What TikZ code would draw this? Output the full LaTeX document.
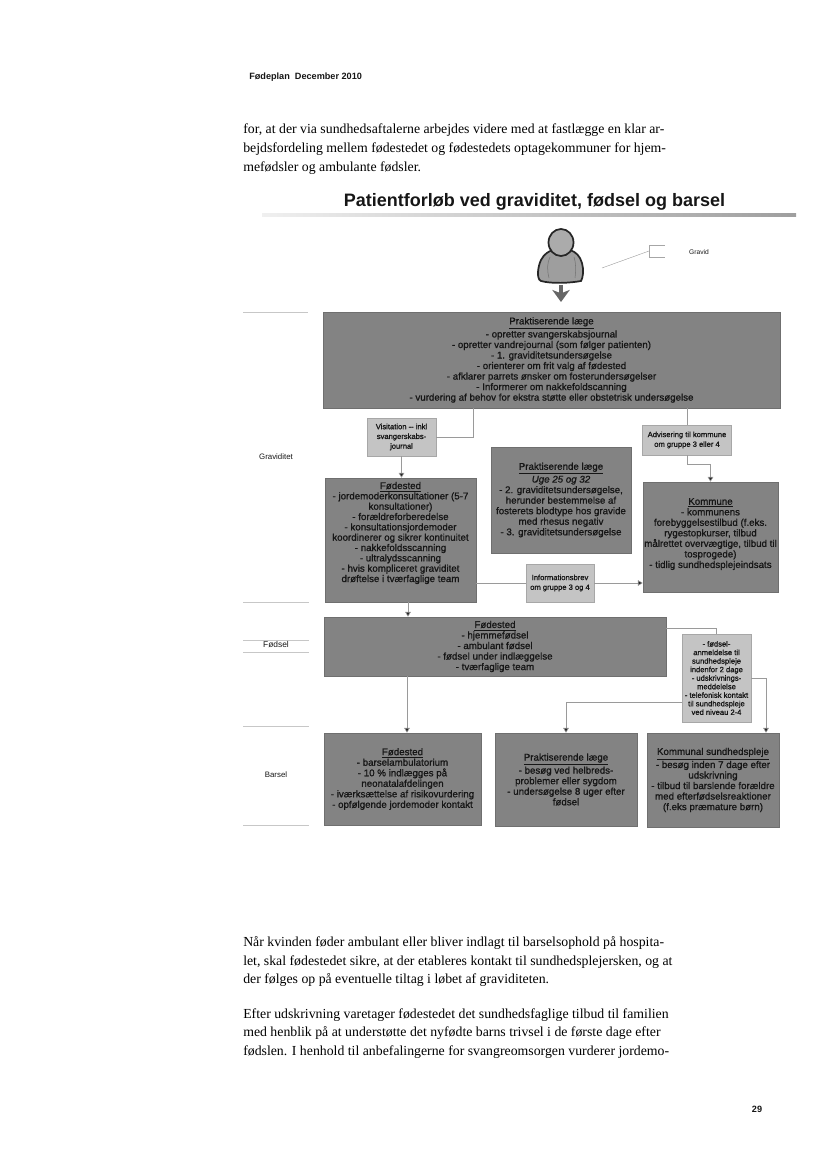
\documentclass[tikz,border=0pt]{standalone}
\usepackage{fontspec}
\setmainfont{Liberation Sans}
\newfontfamily\serifbody{Liberation Serif}
\newfontfamily\boxfont[FakeBold=1.1]{Liberation Sans}
\usetikzlibrary{arrows.meta}
\definecolor{boxgray}{HTML}{838383}
\definecolor{notegray}{HTML}{C4C4C4}
\definecolor{linegray}{HTML}{9A9A9A}
\definecolor{inkdark}{HTML}{161616}
\newcommand{\boxlift}[1]{\rule[-#1]{0pt}{0pt}}
\tikzset{
  bs/.style 2 args={minimum width=#1*.75pt,minimum height=#2*.75pt},
  darkbox/.style={fill=boxgray,draw=boxgray!85!black,line width=.4pt,inner sep=0pt,align=center,text=inkdark,font=\boxfont\fontsize{7.3}{7.9}\selectfont},
  notebox/.style={fill=notegray,draw=notegray!85!black,line width=.3pt,inner sep=0pt,align=center,text=inkdark,font=\boxfont\fontsize{5.7}{7.3}\selectfont},
  bodyline/.style={anchor=base west,inner sep=0pt,text=black,font=\serifbody\fontsize{10.35}{12}\selectfont},
  sidelabel/.style={inner sep=0pt,text=inkdark,font=\fontsize{5.9}{7}\selectfont},
  conn/.style={draw=linegray,line width=.45pt},
  connarrow/.style={conn,-{Triangle[length=3.6pt,width=4.2pt,fill=black!85]}},
  siderule/.style={draw=black!22,line width=.5pt},
}
\begin{document}
\begin{tikzpicture}[x=.75pt,y=-.75pt]
\useasboundingbox (0,0) rectangle (826,1169);
% header and running text
\node[anchor=base west,inner sep=0pt,font=\bfseries\fontsize{6.85}{8}\selectfont,text=inkdark] (hdr) at (249,80) {Fødeplan\ \ December 2010};
\node[bodyline] (p1) at (243,134) {for, at der via sundhedsaftalerne arbejdes videre med at fastlægge en klar ar-};
\node[bodyline] (p2) at (243,153) {bejdsfordeling mellem fødestedet og fødestedets optagekommuner for hjem-};
\node[bodyline] (p3) at (243,172) {mefødsler og ambulante fødsler.};
% title
\node[anchor=base,inner sep=0pt,font=\bfseries\fontsize{13.5}{15}\selectfont,text=inkdark] (title) at (534.5,207) {Patientforløb ved graviditet, fødsel og barsel};
\shade[left color=black!6,right color=black!38] (262,214) rectangle (796,217);
% person
\draw[line width=1.3pt,draw=black!85,fill=black!38]
  (541,281) .. controls (536,279) and (538,266) .. (541,260)
  .. controls (544,254) and (549,251) .. (553,250)
  -- (570,250) .. controls (576,252) and (580,256) .. (582,263)
  .. controls (584,270) and (583,278) .. (581,281)
  .. controls (570,283) and (552,284) .. (541,281) -- cycle;
\draw[line width=1.3pt,draw=black!85,fill=black!33] (561,242.5) ellipse (12.5 and 13.5);
\draw[line width=.4pt,draw=black!55] (550,257) .. controls (547,263) and (547,270) .. (549,278);
\draw[line width=.4pt,draw=black!55] (574,257) .. controls (576,263) and (576,270) .. (575,278);
\coordinate (pA) at (561,285);
\coordinate (pB) at (561,302);
\draw[line width=3.4pt,draw=black!60,-{Stealth[length=9pt,width=13pt,inset=2.5pt]}] (pA) -- (pB);
% legend
\coordinate (gA) at (602,268);
\coordinate (gB) at (649,251);
\draw[draw=black!40,line width=.3pt] (gA) -- (gB);
\draw[draw=black!35,line width=.4pt] (665,245) -- (649,245) -- (649,257) -- (665,257);
\node[sidelabel,font=\fontsize{5}{6}\selectfont] (gravid) at (699,252) {Gravid};
% side labels and rules
\draw[siderule] (243,312) -- (308,312);
\draw[siderule] (243,602) -- (309,602);
\draw[siderule] (243,640) -- (309,640);
\draw[siderule] (243,652) -- (309,652);
\draw[siderule] (243,726) -- (309,726);
\draw[siderule] (243,825) -- (309,825);
\node[sidelabel] (lg) at (276,457) {Graviditet};
\node[sidelabel,font=\fontsize{6.3}{7}\selectfont] (lf) at (276,645) {Fødsel};
\node[sidelabel] (lb) at (276,775) {Barsel};
% dark boxes
\node[darkbox,bs={457}{96}] (top) at (551.5,360) {\underline{Praktiserende læge}\\- opretter svangerskabsjournal\\- opretter vandrejournal (som følger patienten)\\- 1. graviditetsundersøgelse\\- orienterer om frit valg af fødested\\- afklarer parrets ønsker om fosterundersøgelser\\- Informerer om nakkefoldscanning\\- vurdering af behov for ekstra støtte eller obstetrisk undersøgelse};
\node[darkbox,bs={151}{124},font=\boxfont\fontsize{7.3}{7.75}\selectfont] (fod1) at (400.5,540) {\underline{Fødested}\\- jordemoderkonsultationer (5-7\\konsultationer)\\- forældreforberedelse\\- konsultationsjordemoder\\koordinerer og sikrer kontinuitet\\- nakkefoldsscanning\\- ultralydsscanning\\- hvis kompliceret graviditet\\drøftelse i tværfaglige team\boxlift{12pt}};
\node[darkbox,bs={140}{106}] (pl2) at (561,500) {\underline{Praktiserende læge}\\\textit{Uge 25 og 32}\\- 2. graviditetsundersøgelse,\\herunder bestemmelse af\\fosterets blodtype hos gravide\\med rhesus negativ\\- 3. graviditetsundersøgelse};
\node[darkbox,bs={135}{110}] (kom) at (710.5,537) {\underline{Kommune}\\- kommunens\\forebyggelsestilbud (f.eks.\\rygestopkurser, tilbud\\målrettet overvægtige, tilbud til\\tosprogede)\\- tidlig sundhedsplejeindsats\boxlift{6pt}};
\node[darkbox,bs={342}{59}] (fod2) at (495,646.5) {\underline{Fødested}\\- hjemmefødsel\\- ambulant fødsel\\- fødsel under indlæggelse\\- tværfaglige team};
\node[darkbox,bs={157}{92}] (fod3) at (402.5,779) {\underline{Fødested}\\- barselambulatorium\\- 10 \% indlægges på\\neonatalafdelingen\\- iværksættelse af risikovurdering\\- opfølgende jordemoder kontakt};
\node[darkbox,bs={142}{93}] (pl3) at (566,779.5) {\underline{Praktiserende læge}\\- besøg ved helbreds-\\problemer eller sygdom\\- undersøgelse 8 uger efter\\fødsel};
\node[darkbox,bs={132}{94}] (sund) at (713,780) {\underline{Kommunal sundhedspleje}\\- besøg inden 7 dage efter\\udskrivning\\- tilbud til barslende forældre\\med efterfødselsreaktioner\\(f.eks præmature børn)};
% notes
\node[notebox,bs={69}{38}] (vis) at (401.5,437) {Visitation -- inkl\\svangerskabs-\\journal};
\node[notebox,bs={89}{30}] (adv) at (687,440) {Advisering til kommune\\om gruppe 3 eller 4};
\node[notebox,bs={68}{38}] (inf) at (560,583) {Informationsbrev\\om gruppe 3 og 4};
\node[notebox,bs={69}{88},font=\boxfont\fontsize{5.7}{6.4}\selectfont] (ann) at (716.5,678) {- fødsel-\\anmeldelse til\\sundhedspleje\\indenfor 2 dage\\- udskrivnings-\\meddelelse\\- telefonisk kontakt\\til sundhedspleje\\ved niveau 2-4};
% connectors
\draw[conn] (top.south -| 473,0) |- (vis.east);
\draw[connarrow] (vis.south) -- (vis.south |- fod1.north);
\draw[conn] (top.south -| adv.north) -- (adv.north);
\draw[connarrow] (adv.south) -- ++(0,9) -| (kom.north);
\draw[conn] (fod1.east |- inf.west) -- (inf.west);
\draw[connarrow] (inf.east) -- (inf.east -| kom.west);
\draw[connarrow] (fod1.south -| 408,0) -- (fod2.north -| 408,0);
\draw[connarrow] (fod2.south -| 407,0) -- (fod3.north -| 407,0);
\draw[conn] (fod2.east |- 0,628) -| (ann.north);
\draw[connarrow] (ann.east |- 0,678) -| (sund.north -| 766,0);
\draw[connarrow] (ann.west |- 0,702) -| (pl3.north);
% lower text
\node[bodyline] (q1) at (243,946) {Når kvinden føder ambulant eller bliver indlagt til barselsophold på hospita-};
\node[bodyline] (q2) at (243,965) {let, skal fødestedet sikre, at der etableres kontakt til sundhedsplejersken, og at};
\node[bodyline] (q3) at (243,983) {der følges op på eventuelle tiltag i løbet af graviditeten.};
\node[bodyline] (q4) at (243,1018) {Efter udskrivning varetager fødestedet det sundhedsfaglige tilbud til familien};
\node[bodyline] (q5) at (243,1036) {med henblik på at understøtte det nyfødte barns trivsel i de første dage efter};
\node[bodyline] (q6) at (243,1055) {fødslen. I henhold til anbefalingerne for svangreomsorgen vurderer jordemo-};
\node[anchor=base,inner sep=0pt,font=\bfseries\fontsize{6.85}{8}\selectfont,text=inkdark] (pg) at (757,1112) {29};
\end{tikzpicture}
\end{document}
